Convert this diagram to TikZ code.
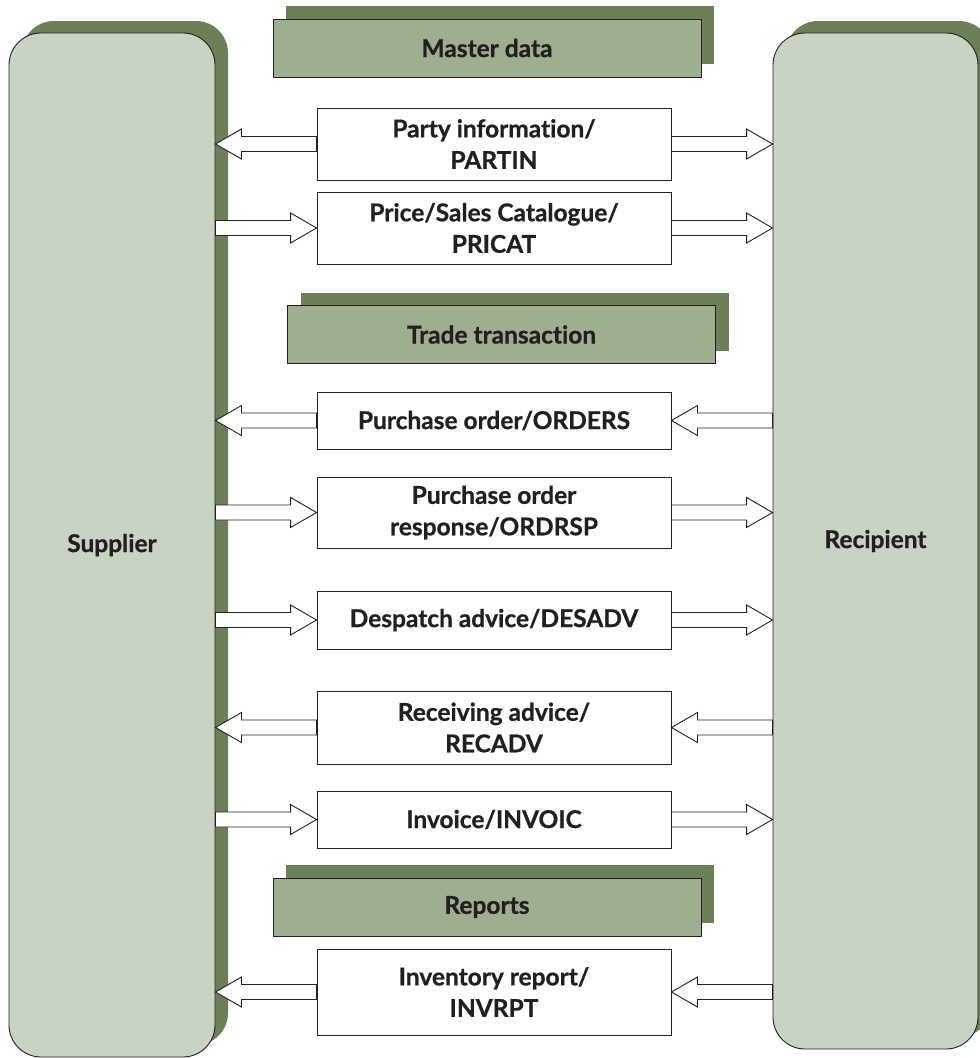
\documentclass[tikz,border=0pt]{standalone}
\usepackage{fontspec}
\setmainfont{Lato}[Ligatures={NoCommon}, BoldFeatures={FakeBold=0.8}]
\usetikzlibrary{calc,shadows}

\definecolor{shade}{HTML}{6B7F58}
\definecolor{header}{HTML}{9EAF91}
\definecolor{panel}{HTML}{C8D4C2}
\definecolor{ink}{HTML}{231F20}

\tikzset{
  base/.style={draw=ink, line width=0.9pt, text=ink, align=center, inner sep=0pt,
    font=\fontsize{24.5}{31.5}\selectfont\bfseries},
  partner/.style={base, fill=panel, rounded corners=32pt,
    general shadow={shadow xshift=13pt, shadow yshift=12pt, fill=shade}},
  section/.style={base, fill=header, minimum width=428pt, minimum height=58pt,
    general shadow={shadow xshift=13pt, shadow yshift=13pt, fill=shade}},
  msg/.style={base, fill=white, minimum width=354pt},
  flow/.style={draw=ink, line width=0.9pt, fill=white, line join=miter},
}

% hollow block arrow from the first point to the second (horizontal)
\newcommand\flowarrow[2]{%
  \path[flow] let \p1=(#1), \p2=(#2), \n1={ifthenelse(\x2>\x1,1,-1)} in
    (\x1,{\y1+7.5pt}) -- ({\x2-\n1*26pt},{\y1+7.5pt}) -- ({\x2-\n1*26pt},{\y1+15pt})
    -- (\x2,\y1) -- ({\x2-\n1*26pt},{\y1-15pt}) -- ({\x2-\n1*26pt},{\y1-7.5pt})
    -- (\x1,{\y1-7.5pt}) -- cycle;}

\begin{document}
\begin{tikzpicture}[x=1pt,y=-1pt]
\useasboundingbox (0,0) rectangle (980,1058);

% trading partners
\node[partner, minimum width=206pt, minimum height=1024pt] (sup) at (112,545) {Supplier};
\node[partner, minimum width=205pt, minimum height=1016pt] (rec) at (875.5,541) {Recipient};

% section headers
\node[section] (master) at (487,48) {Master data};
\node[section] (trade) at (501.5,334.5) {Trade transaction};
\node[section] (reports) at (487,907) {Reports};

% messages
\node[msg, minimum height=72pt] (partin) at (494,144) {Party information/\\PARTIN};
\node[msg, minimum height=72pt] (pricat) at (494,228) {Price/Sales Catalogue/\\PRICAT};
\node[msg, minimum height=57pt] (orders) at (494,420.5) {Purchase order/ORDERS};
\node[msg, minimum height=71pt] (ordrsp) at (494,512.5) {Purchase order\\response/ORDRSP};
\node[msg, minimum height=58pt] (desadv) at (494,620) {Despatch advice/DESADV};
\node[msg, minimum height=73pt] (recadv) at (494,727.5) {Receiving advice/\\RECADV};
\node[msg, minimum height=57pt] (invoic) at (494,819.5) {Invoice/INVOIC};
\node[msg, minimum height=86pt] (invrpt) at (494,992) {Inventory report/\\INVRPT};

% message flows
\flowarrow{partin.west}{sup.east |- partin.west}
\flowarrow{partin.east}{rec.west |- partin.east}
\flowarrow{sup.east |- pricat.west}{pricat.west}
\flowarrow{pricat.east}{rec.west |- pricat.east}
\flowarrow{orders.west}{sup.east |- orders.west}
\flowarrow{rec.west |- orders.east}{orders.east}
\flowarrow{sup.east |- ordrsp.west}{ordrsp.west}
\flowarrow{ordrsp.east}{rec.west |- ordrsp.east}
\flowarrow{sup.east |- desadv.west}{desadv.west}
\flowarrow{desadv.east}{rec.west |- desadv.east}
\flowarrow{recadv.west}{sup.east |- recadv.west}
\flowarrow{rec.west |- recadv.east}{recadv.east}
\flowarrow{sup.east |- invoic.west}{invoic.west}
\flowarrow{invoic.east}{rec.west |- invoic.east}
\flowarrow{invrpt.west}{sup.east |- invrpt.west}
\flowarrow{rec.west |- invrpt.east}{invrpt.east}
\end{tikzpicture}
\end{document}
